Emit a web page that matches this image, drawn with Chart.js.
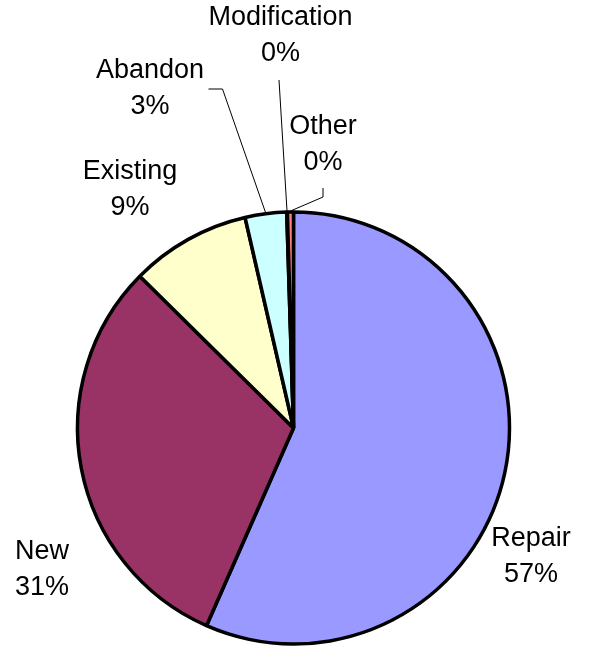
<!DOCTYPE html>
<html>
<head>
<meta charset="utf-8">
<title>Work type share</title>
<script src="https://cdn.jsdelivr.net/npm/chart.js@4/dist/chart.umd.min.js"></script>
<style>
  html, body { margin: 0; padding: 0; background: #ffffff; }
  #chart { display: block; }
</style>
</head>
<body>
<canvas id="chart" width="614" height="648"></canvas>
<script>
// Share of records by work type (percent of total)
const categories = ['Repair', 'New', 'Existing', 'Abandon', 'Modification', 'Other'];
const shares = [56.6, 30.8, 9.0, 3.1, 0.05, 0.45];
const sliceColors = ['#9999FF', '#993366', '#FFFFCC', '#CCFFFF', '#660066', '#FF8080'];

// Where each category label sits, as an offset from the pie centre (px at radius 216),
// and how its leader line (if any) runs to the slice.
const labelLayout = [
  { dx: 237.5, dy: 129 },
  { dx: -251.5, dy: 142 },
  { dx: -163.5, dy: -238 },
  { dx: -143.5, dy: -339, leader: 'elbow', lx: 58.5, ly: 0, run: 14 },
  { dx: -13, dy: -392, leader: 'straight', lx: -1.5, ly: 44 },
  { dx: 29.5, dy: -283, leader: 'drop', lx: 0, ly: 43, run: 9 }
];

const LINE_GAP = 36;
const FONT = '27px "Liberation Sans", Arial, sans-serif';

const pieLabels = {
  id: 'pieLabels',
  afterDatasetsDraw(chart) {
    const ctx = chart.ctx;
    const meta = chart.getDatasetMeta(0);
    const values = chart.data.datasets[0].data;
    const total = values.reduce((a, b) => a + b, 0);
    ctx.save();
    ctx.font = FONT;
    ctx.fillStyle = '#000000';
    ctx.strokeStyle = '#000000';
    ctx.lineWidth = 1;
    ctx.textAlign = 'center';
    ctx.textBaseline = 'middle';
    meta.data.forEach((arc, i) => {
      const p = arc.getProps(['x', 'y', 'startAngle', 'endAngle', 'outerRadius'], true);
      const k = p.outerRadius / 216;
      const lay = labelLayout[i];
      const cx = p.x + lay.dx * k;
      const cy = p.y + lay.dy * k;
      const pct = Math.round(values[i] / total * 100) + '%';
      ctx.fillText(chart.data.labels[i], cx, cy - LINE_GAP / 2);
      ctx.fillText(pct, cx, cy + LINE_GAP / 2);

      if (lay.leader) {
        const mid = (p.startAngle + p.endAngle) / 2;
        const r = p.outerRadius + 1;
        const ex = p.x + Math.cos(mid) * r;
        const ey = p.y + Math.sin(mid) * r;
        const sx = cx + lay.lx;
        const sy = cy + lay.ly;
        ctx.beginPath();
        ctx.moveTo(sx, sy);
        if (lay.leader === 'elbow') {
          ctx.lineTo(sx + lay.run, sy);
        } else if (lay.leader === 'drop') {
          ctx.lineTo(sx, sy + lay.run);
        }
        ctx.lineTo(ex, ey);
        ctx.stroke();
      }
    });
    ctx.restore();
  }
};

new Chart(document.getElementById('chart'), {
  type: 'pie',
  data: {
    labels: categories,
    datasets: [{
      data: shares,
      backgroundColor: sliceColors,
      borderColor: '#000000',
      borderWidth: 3.5,
      hoverBorderWidth: 3.5,
      hoverOffset: 0
    }]
  },
  options: {
    responsive: false,
    animation: false,
    radius: 216,
    layout: { padding: { left: 77, right: 104, top: 212, bottom: 4 } },
    plugins: {
      legend: { display: false },
      tooltip: { enabled: false }
    }
  },
  plugins: [pieLabels]
});
</script>
</body>
</html>
